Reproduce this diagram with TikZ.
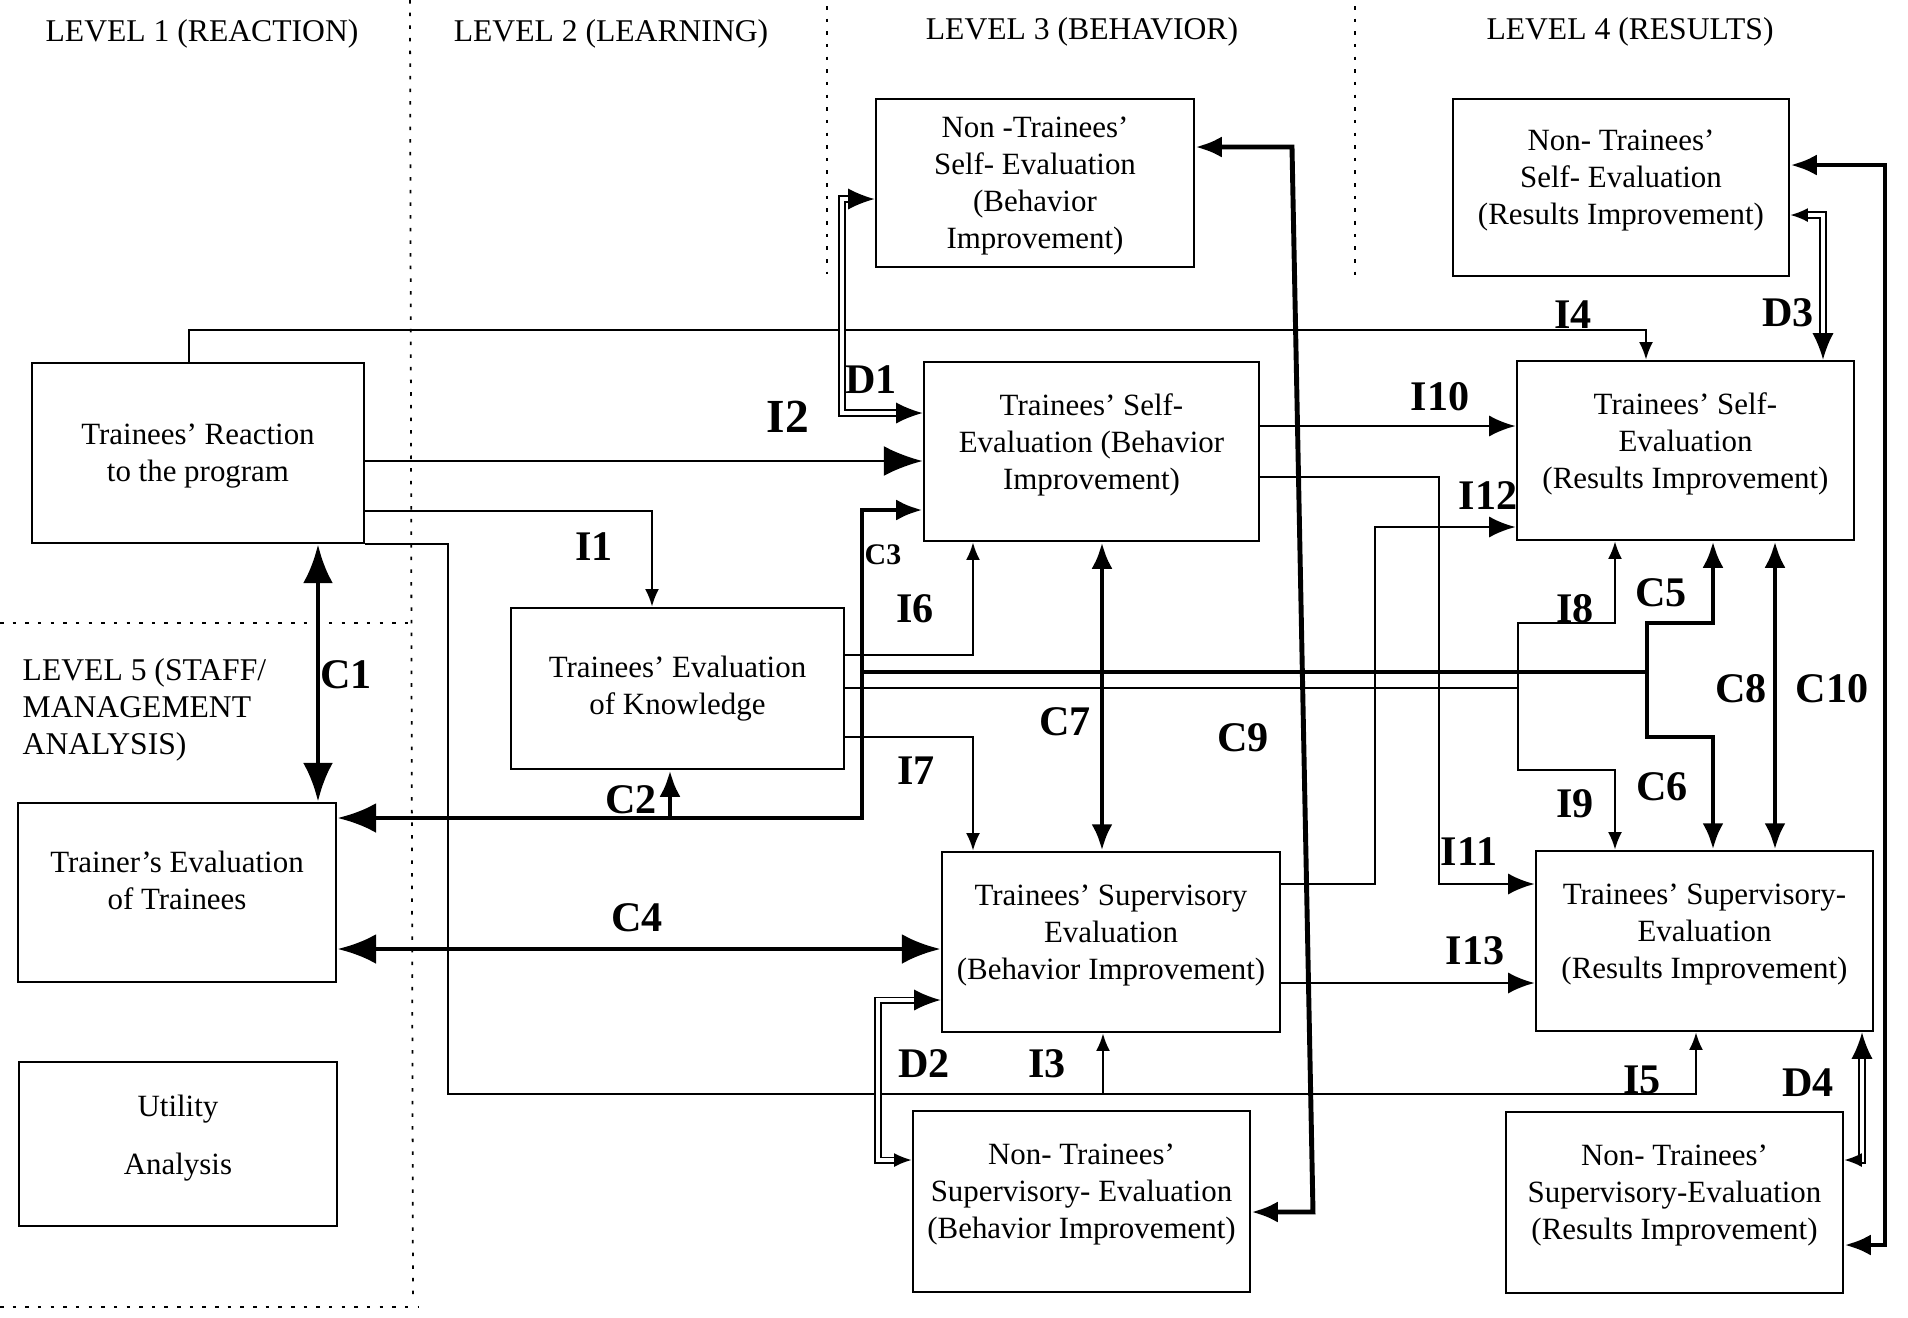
\documentclass[tikz,border=0pt]{standalone}
\usepackage{fontspec}
\setmainfont{Liberation Serif}
\usetikzlibrary{arrows.meta,positioning,calc}

\tikzset{
    smallhead/.tip={Latex[length=5pt,width=4pt]},
    midhead/.tip={Latex[length=7.5pt,width=6pt]},
    bighead/.tip={Latex[length=11pt,width=8.5pt]}
}

\begin{document}
\begin{tikzpicture}[
    x=0.1mm, y=-0.1mm,
    box/.style={rectangle, draw, line width=0.8pt, align=center, inner sep=0pt, text depth=5.8pt, font=\fontsize{8.8}{10.5}\selectfont},
    head/.style={font=\fontsize{9}{10.5}\selectfont, inner sep=0pt},
    tag/.style={font=\fontsize{12}{14}\selectfont\bfseries, inner sep=0pt},
    flow/.style={line width=0.6pt, -smallhead},
    flowbig/.style={line width=0.8pt, -midhead},
    link/.style={line width=1.4pt},
    dual/.style={double, double distance=1pt, line width=0.5pt},
    border/.style={line width=0.5pt, dash pattern=on 1pt off 2.6pt}
]
    \useasboundingbox (0,0) rectangle (1908,1317);

    % level headings and borders
    \node[head] (lvl1) at (202,34) {LEVEL 1 (REACTION)};
    \node[head] (lvl2) at (611,34) {LEVEL 2 (LEARNING)};
    \node[head] (lvl3) at (1082,32) {LEVEL 3 (BEHAVIOR)};
    \node[head] (lvl4) at (1630,32) {LEVEL 4 (RESULTS)};
    \node[head, anchor=west, align=left] (lvl5) at (22,710) {LEVEL 5 (STAFF/\\MANAGEMENT\\ANALYSIS)};

    \draw[border] (410,0) -- (413,1303);
    \draw[border] (0,623) -- (410,623);
    \draw[border] (0,1307) -- (418,1307);
    \draw[border] (827,6) -- (827,274);
    \draw[border] (1355,6) -- (1355,280);

    % boxes
    \node[box, minimum width=33.2mm, minimum height=18mm, text depth=0pt] (reaction) at (198,453) {Trainees’ Reaction\\to the program};
    \node[box, minimum width=31.8mm, minimum height=17.9mm, text depth=6.8pt] (trainer) at (177,892.5) {Trainer’s Evaluation\\of Trainees};
    \node[box, minimum width=31.8mm, minimum height=16.4mm, text depth=5.3pt] (utility) at (178,1144) {Utility\\[6pt]Analysis};
    \node[box, minimum width=33.3mm, minimum height=16.1mm, text depth=2pt] (knowledge) at (677.5,688.5) {Trainees’ Evaluation\\of Knowledge};
    \node[box, minimum width=31.8mm, minimum height=16.8mm, text depth=0pt] (ntselfbeh) at (1035,183) {Non -Trainees’\\Self- Evaluation\\(Behavior\\Improvement)};
    \node[box, minimum width=33.5mm, minimum height=17.9mm] (selfbeh) at (1091.5,451.5) {Trainees’ Self-\\Evaluation (Behavior\\Improvement)};
    \node[box, minimum width=33.8mm, minimum height=18mm] (supbeh) at (1111,942) {Trainees’ Supervisory\\Evaluation\\(Behavior Improvement)};
    \node[box, minimum width=33.7mm, minimum height=18.1mm] (ntsupbeh) at (1081.5,1201.5) {Non- Trainees’\\Supervisory- Evaluation\\(Behavior Improvement)};
    \node[box, minimum width=33.6mm, minimum height=17.7mm] (ntselfres) at (1621,187.5) {Non- Trainees’\\Self- Evaluation\\(Results Improvement)};
    \node[box, minimum width=33.7mm, minimum height=17.9mm] (selfres) at (1685.5,450.5) {Trainees’ Self-\\Evaluation\\(Results Improvement)};
    \node[box, minimum width=33.7mm, minimum height=18mm] (supres) at (1704.5,941) {Trainees’ Supervisory-\\Evaluation\\(Results Improvement)};
    \node[box, minimum width=33.7mm, minimum height=18.1mm] (ntsupres) at (1674.5,1202.5) {Non- Trainees’\\Supervisory-Evaluation\\(Results Improvement)};

    % from the reaction box
    \draw[flow] (reaction.north -| 189,0) |- (1646,330) -- (selfres.north -| 1646,0);
    \draw[line width=0.8pt, -bighead] (reaction.east |- 0,461) -- (selfbeh.west |- 0,461);
    \draw[flow] (reaction.east |- 0,511) -| (knowledge.north -| 652,0);
    \draw[flow] (reaction.south east) -| (448,1094) -| (supres.south -| 1696,0);
    \draw[flow] (1103,1094) -- (supbeh.south -| 1103,0);
    \draw[link, bighead-bighead] (reaction.south -| 318,0) -- (trainer.north -| 318,0);

    % trainer links
    \draw[link, bighead-midhead] (trainer.east |- 0,818) -| (862,510) -- (selfbeh.west |- 0,510);
    \draw[link, -midhead] (670,818) -- (knowledge.south -| 670,0);
    \draw[link, bighead-bighead] (trainer.east |- 0,949) -- (supbeh.west |- 0,949);

    % from the knowledge box
    \draw[flow] (knowledge.east |- 0,655) -| (selfbeh.south -| 973,0);
    \draw[flow] (knowledge.east |- 0,737) -| (supbeh.north -| 973,0);
    \draw[line width=0.6pt] (knowledge.east |- 0,688) -- (1518,688);
    \draw[flow] (1518,688) |- (1615,623) -- (selfres.south -| 1615,0);
    \draw[flow] (1518,688) |- (1615,770) -- (supres.north -| 1615,0);
    \draw[link] (862,672) -- (1647,672);
    \draw[link, -midhead] (1647,672) |- (1713,623) -- (selfres.south -| 1713,0);
    \draw[link, -midhead] (1647,672) |- (1713,737) -- (supres.north -| 1713,0);

    % behavior level
    \draw[link, midhead-midhead] (selfbeh.south -| 1102,0) -- (supbeh.north -| 1102,0);
    \draw[link, midhead-midhead] (ntselfbeh.east |- 0,147) -- (1292,147) -- (1313,1212) -- (ntsupbeh.east |- 0,1212);
    \draw[dual, midhead-midhead] (ntselfbeh.west |- 0,199) -| (842,413) -- (selfbeh.west |- 0,413);
    \draw[dual, midhead-smallhead] (supbeh.west |- 0,1000) -| (878,1160) -- (ntsupbeh.west |- 0,1160);

    % behavior to results
    \draw[flowbig] (selfbeh.east |- 0,426) -- (selfres.west |- 0,426);
    \draw[flowbig] (selfbeh.east |- 0,477) -| (1439,884) -- (supres.west |- 0,884);
    \draw[flowbig] (supbeh.east |- 0,884) -| (1375,527) -- (selfres.west |- 0,527);
    \draw[flowbig] (supbeh.east |- 0,983) -- (supres.west |- 0,983);

    % results level
    \draw[link, midhead-midhead] (selfres.south -| 1775,0) -- (supres.north -| 1775,0);
    \draw[link, midhead-midhead] (ntselfres.east |- 0,165) -| (1885,1245) -- (ntsupres.east |- 0,1245);
    \draw[dual, smallhead-midhead] (ntselfres.east |- 0,215) -| (selfres.north -| 1823,0);
    \draw[dual, midhead-smallhead] (supres.south -| 1862,0) |- (ntsupres.east |- 0,1160);

    % labels
    \node[tag] (tI1) at (594,547) {I1};
    \node[tag, font=\fontsize{13.5}{15}\selectfont\bfseries] (tI2) at (788,417) {I2};
    \node[tag] (tI3) at (1047,1064) {I3};
    \node[tag] (tI4) at (1573,315) {I4};
    \node[tag] (tI5) at (1642,1080) {I5};
    \node[tag] (tI6) at (915,609) {I6};
    \node[tag] (tI7) at (916,771) {I7};
    \node[tag] (tI8) at (1575,609) {I8};
    \node[tag] (tI9) at (1575,804) {I9};
    \node[tag] (tI10) at (1440,397) {I10};
    \node[tag] (tI11) at (1469,852) {I11};
    \node[tag] (tI12) at (1488,496) {I12};
    \node[tag] (tI13) at (1475,951) {I13};
    \node[tag] (tC1) at (346,675) {C1};
    \node[tag] (tC2) at (631,800) {C2};
    \node[tag, font=\fontsize{8.5}{10}\selectfont\bfseries] (tC3) at (883,555) {C3};
    \node[tag] (tC4) at (637,918) {C4};
    \node[tag] (tC5) at (1661,593) {C5};
    \node[tag] (tC6) at (1662,787) {C6};
    \node[tag] (tC7) at (1065,722) {C7};
    \node[tag] (tC8) at (1741,689) {C8};
    \node[tag] (tC9) at (1243,738) {C9};
    \node[tag] (tC10) at (1832,689) {C10};
    \node[tag] (tD1) at (871,380) {D1};
    \node[tag] (tD2) at (924,1064) {D2};
    \node[tag] (tD3) at (1788,313) {D3};
    \node[tag] (tD4) at (1808,1083) {D4};
\end{tikzpicture}
\end{document}
